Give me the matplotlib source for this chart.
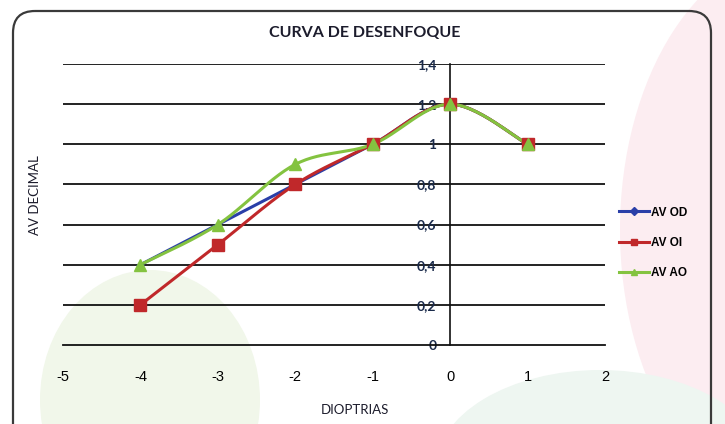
import numpy as np
import matplotlib
matplotlib.use("Agg")
import matplotlib.pyplot as plt
from matplotlib.patches import FancyBboxPatch, Ellipse

# ---- data ----
dioptrias = [-4, -3, -2, -1, 0, 1]
av_od = [0.4, 0.6, 0.8, 1.0, 1.2, 1.0]
av_oi = [0.2, 0.5, 0.8, 1.0, 1.2, 1.0]
av_ao = [0.4, 0.6, 0.9, 1.0, 1.2, 1.0]
series_names = ["AV OD", "AV OI", "AV AO"]
y_ticks = [0, 0.2, 0.4, 0.6, 0.8, 1.0, 1.2, 1.4]
y_tick_labels = ["0", "0,2", "0,4", "0,6", "0,8", "1", "1,2", "1,4"]
x_ticks = [-5, -4, -3, -2, -1, 0, 1, 2]

title = "CURVA DE DESENFOQUE"
xlabel = "DIOPTRIAS"
ylabel = "AV DECIMAL"


def smooth(x, y, n=30):
    """Excel-like smoothed line (Catmull-Rom Bezier) through the points."""
    x = np.asarray(x, float)
    y = np.asarray(y, float)
    P = np.column_stack([x, y])
    out = []
    for i in range(len(P) - 1):
        p0 = P[i - 1] if i > 0 else P[i]
        p1 = P[i]
        p2 = P[i + 1]
        p3 = P[i + 2] if i + 2 < len(P) else P[i + 1]
        c1 = p1 + (p2 - p0) / 6.0
        c2 = p2 - (p3 - p1) / 6.0
        t = np.linspace(0, 1, n)[:, None]
        seg = ((1 - t) ** 3) * p1 + 3 * ((1 - t) ** 2) * t * c1 + 3 * (1 - t) * t ** 2 * c2 + t ** 3 * p2
        out.append(seg if i == 0 else seg[1:])
    s = np.vstack(out)
    return s[:, 0], s[:, 1]


plt.rcParams['font.family'] = ['Lato', 'DejaVu Sans']

fig = plt.figure(figsize=(7.25, 4.24), dpi=100)
fig.patch.set_facecolor("white")

# faint decorative background
bg = fig.add_axes([0, 0, 1, 1], zorder=-5)
bg.set_xlim(0, 725)
bg.set_ylim(424, 0)
bg.axis("off")
bg.add_patch(Ellipse((800, 230), 360, 560, facecolor="#fcedf1", edgecolor="none"))
bg.add_patch(Ellipse((150, 400), 220, 260, facecolor="#f1f7ea", edgecolor="none"))
bg.add_patch(Ellipse((600, 470), 330, 200, facecolor="#eef6f1", edgecolor="none"))
bg.add_patch(FancyBboxPatch((13, 11), 698, 440, boxstyle="round,pad=0,rounding_size=22",
                            facecolor="none", edgecolor="#3a3a3a", linewidth=1.6))

ax = fig.add_axes([63 / 725, 1 - 345 / 424, 542 / 725, 281 / 424])
ax.set_facecolor("none")
ax.set_xlim(-5, 2)
ax.set_ylim(0, 1.4)

for yv in y_ticks[1:]:
    ax.axhline(yv, color="#111111", linewidth=1.3, zorder=1)

for s in ["top", "right"]:
    ax.spines[s].set_visible(False)
ax.spines["left"].set_position(("data", 0))
ax.spines["left"].set_color("#111111")
ax.spines["left"].set_linewidth(1.2)
ax.spines["bottom"].set_color("#111111")
ax.spines["bottom"].set_linewidth(1.3)

ax.set_yticks(y_ticks)
ax.set_yticklabels(y_tick_labels, fontsize=10, color="#1a2a4a", fontweight="bold")
ax.set_xticks(x_ticks)
ax.set_xticklabels([str(v) for v in x_ticks], fontsize=10.5, fontfamily="Liberation Sans")
ax.tick_params(axis="y", length=0, pad=10)
ax.tick_params(axis="x", length=0, pad=18)

colors = ["#2a3fa8", "#c0282a", "#84c340"]
markers = ["D", "s", "^"]
msizes = [3.5, 8, 8]
data = [av_od, av_oi, av_ao]
handles = []
for name, yv, c, m, ms in zip(series_names, data, colors, markers, msizes):
    sx, sy = smooth(dioptrias, yv)
    ax.plot(sx, sy, color=c, linewidth=2.2, zorder=3, solid_capstyle="round")
    ax.plot(dioptrias, yv, linestyle="none", marker=m, markersize=ms, color=c,
            markeredgecolor=c, zorder=4)
    h, = ax.plot([], [], color=c, linewidth=2.2, marker=m, markersize=4, label=name)
    handles.append(h)

leg = fig.legend(handles=handles, loc="upper left", bbox_to_anchor=(608 / 725, 1 - 196 / 424),
                 frameon=False, fontsize=8.5, handlelength=2.6, handletextpad=0.15,
                 labelspacing=1.55, prop={"family": "Liberation Sans", "weight": "bold", "size": 8.5})

fig.text(365 / 725, 1 - 33 / 424, title, ha="center", va="center", fontsize=11.5,
         fontweight="bold", color="#1c1c2c")
fig.text(355 / 725, 1 - 410 / 424, xlabel, ha="center", va="center", fontsize=9.5, color="#1c1c2c")
fig.text(35 / 725, 1 - 195 / 424, ylabel, ha="center", va="center", fontsize=9.5,
         rotation=90, color="#1c1c2c")

fig.savefig("out.png", dpi=100)
